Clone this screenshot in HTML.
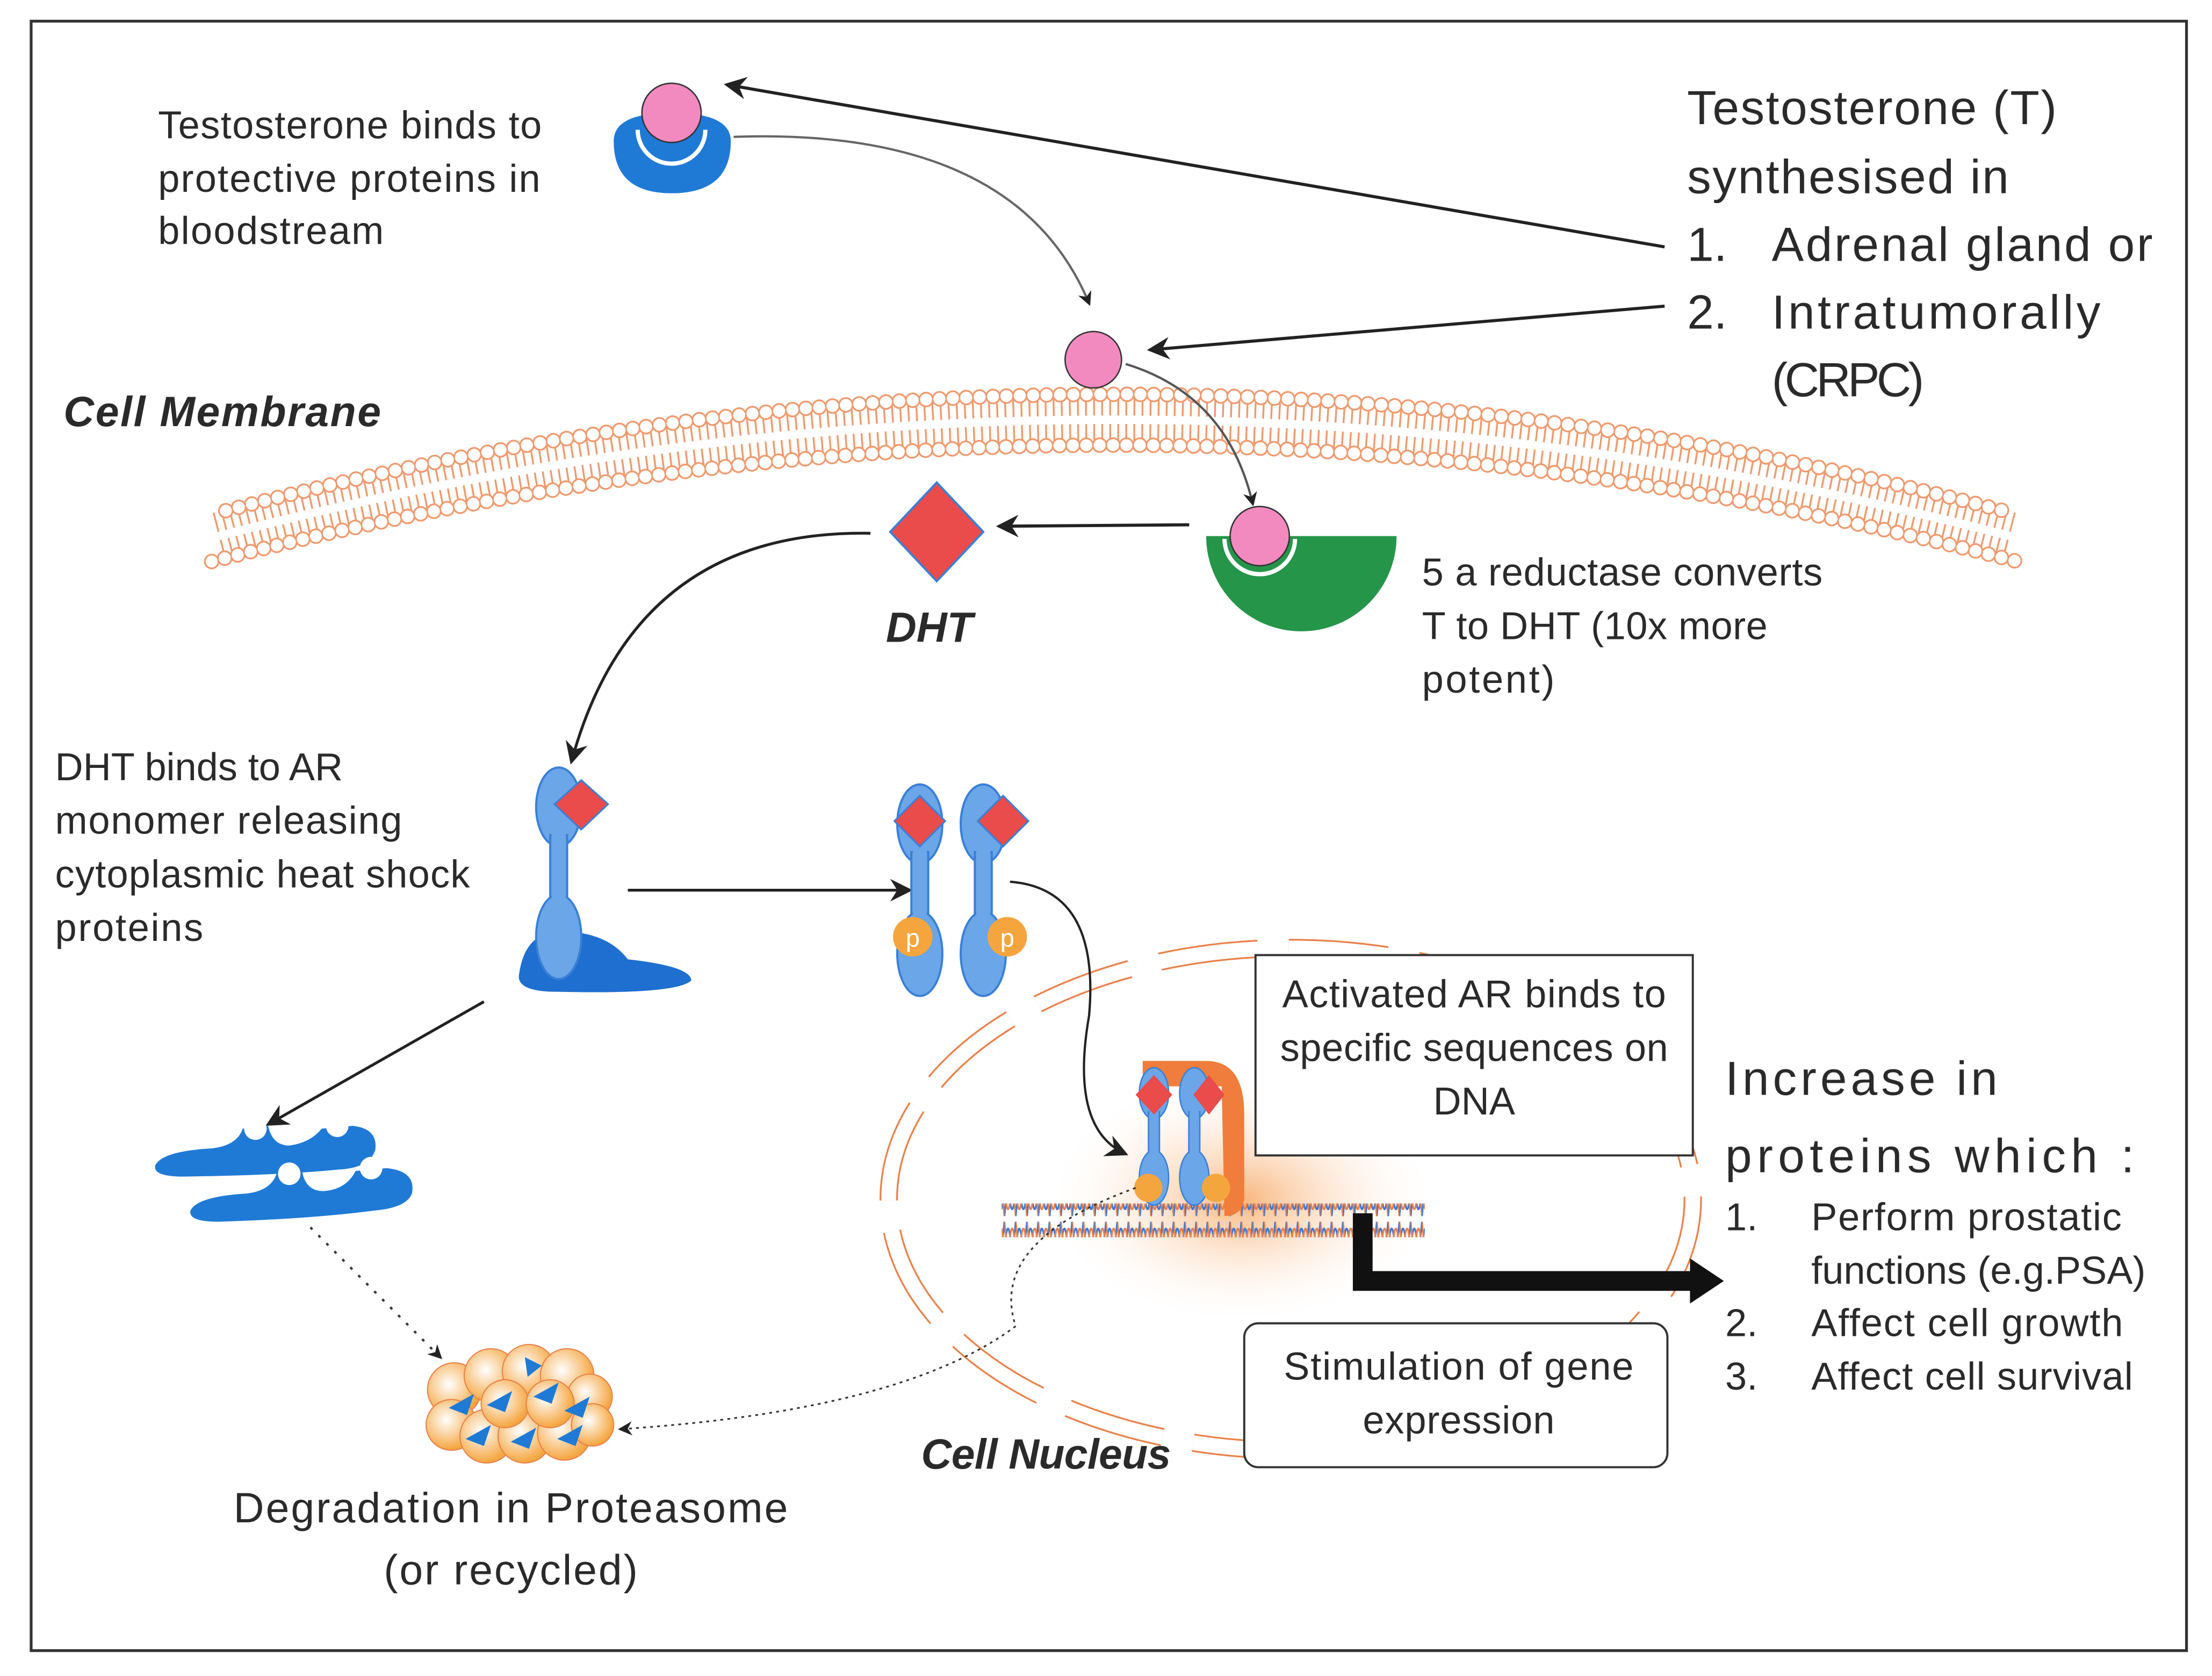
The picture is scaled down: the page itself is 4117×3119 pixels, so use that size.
<!DOCTYPE html>
<html><head><style>
html,body{margin:0;padding:0;background:#fff;}
svg{display:block;}
text{font-family:"Liberation Sans","DejaVu Sans",sans-serif;fill:#2a2a2a;}
</style></head><body>
<svg width="4117" height="3119" viewBox="0 0 1568 1188" xmlns="http://www.w3.org/2000/svg">
<defs>
<marker id="ah" markerWidth="10" markerHeight="10" refX="8" refY="5" orient="auto" markerUnits="userSpaceOnUse"><path d="M0,0 L10,5 L0,10 L3,5z" fill="#222"/></marker>
<marker id="ahs" markerWidth="16" markerHeight="16" refX="14" refY="8" orient="auto" markerUnits="userSpaceOnUse"><path d="M0,0 L16,8 L0,16 L5,8z" fill="#222"/></marker>
<radialGradient id="glow" cx="0.5" cy="0.5" r="0.5"><stop offset="0" stop-color="#f7a25a" stop-opacity="0.8"/><stop offset="1" stop-color="#fff" stop-opacity="0"/></radialGradient>
<radialGradient id="ball" cx="0.4" cy="0.4" r="0.6"><stop offset="0" stop-color="#fff"/><stop offset="1" stop-color="#f5a53e"/></radialGradient>
<pattern id="dna" width="8" height="24" patternUnits="userSpaceOnUse"><path d="M0,22 Q2,-2 4,12 T8,2" fill="none" stroke="#3a78d6" stroke-width="1.3"/><path d="M0,2 Q2,26 4,12 T8,22" fill="none" stroke="#e9814a" stroke-width="1.3"/></pattern>
<g id="arm">
<ellipse cx="0" cy="0" rx="16" ry="28" fill="#6aa6e8" stroke="#3a7fd6" stroke-width="1.5"/>
<rect x="-6" y="20" width="12" height="60" fill="#6aa6e8" stroke="#3a7fd6" stroke-width="1.5"/>
<ellipse cx="0" cy="92" rx="16" ry="30" fill="#6aa6e8" stroke="#3a7fd6" stroke-width="1.5"/>
<rect x="-5" y="18" width="10" height="66" fill="#6aa6e8"/>
</g>
</defs>
<rect x="22" y="15" width="1528" height="1155" fill="#fff" stroke="#333" stroke-width="2"/>

<!-- membrane -->
<path d="M155,380 Q790,215 1425,380" fill="none" stroke="#ef9a6e" stroke-width="34" stroke-dasharray="1.3 4.4"/>
<path d="M155,380 Q790,215 1425,380" fill="none" stroke="#fff" stroke-width="6"/>
<path d="M150,398 Q790,233 1430,398" fill="none" stroke="#ef9a6e" stroke-width="11" stroke-dasharray="0 9.5" stroke-linecap="round"/>
<path d="M150,398 Q790,233 1430,398" fill="none" stroke="#fff" stroke-width="8.5" stroke-dasharray="0 9.5" stroke-linecap="round"/>
<path d="M160,362 Q790,197 1420,362" fill="none" stroke="#ef9a6e" stroke-width="11" stroke-dasharray="0 9.5" stroke-linecap="round"/>
<path d="M160,362 Q790,197 1420,362" fill="none" stroke="#fff" stroke-width="8.5" stroke-dasharray="0 9.5" stroke-linecap="round"/>

<!-- nucleus -->
<ellipse cx="915" cy="850" rx="285" ry="178" fill="none" stroke="#e9814a" stroke-width="13" stroke-dasharray="70 22"/>
<ellipse cx="915" cy="850" rx="285" ry="178" fill="none" stroke="#fff" stroke-width="10.5" stroke-dasharray="70 22"/>
<ellipse cx="880" cy="850" rx="140" ry="90" fill="url(#glow)"/>

<!-- top protein -->
<path d="M435,100 Q435,80 476,80 Q518,80 518,100 Q518,137 476,137 Q435,137 435,100z" fill="#1f7ad6"/>
<circle cx="476" cy="80" r="21" fill="#f28ac0" stroke="#333" stroke-width="1"/>
<path d="M452,92 A24,24 0 0 0 500,92" fill="none" stroke="#fff" stroke-width="3"/>
<circle cx="775" cy="255" r="20" fill="#f28ac0" stroke="#333" stroke-width="1"/>

<!-- arrows top -->
<path d="M1180,175 L515,60" stroke="#222" stroke-width="2.2" fill="none" marker-end="url(#ahs)"/>
<path d="M1180,217 L815,248" stroke="#222" stroke-width="2.2" fill="none" marker-end="url(#ahs)"/>
<path d="M520,97 Q720,90 772,215" stroke="#666" stroke-width="1.6" fill="none" marker-end="url(#ah)"/>
<path d="M798,258 Q870,280 888,357" stroke="#555" stroke-width="1.6" fill="none" marker-end="url(#ah)"/>

<!-- reductase -->
<path d="M855,380 L990,380 A67,67 0 0 1 855,380z" fill="#25954a"/>
<circle cx="893" cy="380" r="21" fill="#f28ac0" stroke="#333" stroke-width="1"/>
<path d="M868,382 A25,25 0 0 0 918,382" fill="none" stroke="#fff" stroke-width="3"/>
<path d="M843,372 L708,373" stroke="#222" stroke-width="2.2" marker-end="url(#ahs)"/>
<path d="M664,342 L697,377 L664,412 L631,377z" fill="#ea4b4b" stroke="#3a7fd6" stroke-width="1.5"/>
<path d="M617,378 Q450,375 405,540" stroke="#222" stroke-width="2" fill="none" marker-end="url(#ahs)"/>

<!-- monomer -->
<path d="M368,690 Q372,662 395,660 Q430,660 445,680 Q490,685 490,695 Q480,705 395,703 Q365,703 368,690z" fill="#1f6fd0"/>
<use href="#arm" x="396" y="572"/>
<path d="M412,553 L431,570 L412,588 L393,570z" fill="#ea4b4b" stroke="#3a7fd6" stroke-width="1.2"/>
<path d="M445,631 L645,631" stroke="#222" stroke-width="2" marker-end="url(#ahs)"/>

<!-- dimer -->
<use href="#arm" x="652" y="584"/>
<use href="#arm" x="697" y="584"/>
<path d="M652,564 L670,582 L652,600 L634,582z" fill="#ea4b4b" stroke="#3a7fd6" stroke-width="1.2"/>
<path d="M711,564 L729,582 L711,600 L693,582z" fill="#ea4b4b" stroke="#3a7fd6" stroke-width="1.2"/>
<circle cx="647" cy="664" r="14" fill="#f5a53e"/><text x="647" y="671" font-size="18" text-anchor="middle" style="fill:#fff">p</text>
<circle cx="714" cy="664" r="14" fill="#f5a53e"/><text x="714" y="671" font-size="18" text-anchor="middle" style="fill:#fff">p</text>
<path d="M716,625 Q780,630 772,720 Q758,800 798,818" stroke="#222" stroke-width="1.6" fill="none" marker-end="url(#ahs)"/>

<!-- DNA -->
<rect x="710" y="853" width="300" height="24" fill="url(#dna)"/>
<path d="M810,752 L855,752 Q882,752 882,790 L882,850 Q880,862 868,862 L866,770 L810,770z" fill="#f07d3c"/>
<g transform="translate(818,775) scale(0.65)"><use href="#arm" x="0" y="0"/><use href="#arm" x="44" y="0"/></g>
<path d="M818,762 L831,776 L818,790 L805,776z" fill="#ea4b4b"/>
<path d="M857,762 L868,776 L857,790 L846,776z" fill="#ea4b4b"/>
<circle cx="814" cy="842" r="10" fill="#f5a53e"/><circle cx="862" cy="842" r="10" fill="#f5a53e"/>
<path d="M966,860 L966,908 L1200,908" stroke="#111" stroke-width="14" fill="none"/>
<path d="M1198,892 L1222,908 L1198,924z" fill="#111"/>
<path d="M805,842 Q700,880 720,940 Q640,1000 440,1013" stroke="#333" stroke-width="1.2" stroke-dasharray="2 3" fill="none" marker-end="url(#ah)"/>

<!-- HSP -->
<g fill="#1f7ad6">
<path d="M110,826 Q115,816 150,814 Q168,812 172,800 L190,798 Q193,812 205,812 Q220,810 228,800 L250,798 Q268,800 266,815 Q262,828 240,829 Q200,833 130,834 Q108,834 110,826z"/>
<path d="M135,858 Q140,848 175,846 Q192,844 196,832 L214,830 Q217,846 232,844 Q246,842 252,830 L274,828 Q295,830 292,846 Q288,856 266,858 Q220,864 155,866 Q133,866 135,858z"/>
</g>
<circle cx="181" cy="800" r="8" fill="#fff"/><circle cx="239" cy="798" r="8" fill="#fff"/>
<circle cx="205" cy="832" r="8" fill="#fff"/><circle cx="263" cy="828" r="8" fill="#fff"/>
<path d="M343,710 L190,797" stroke="#222" stroke-width="2" marker-end="url(#ahs)"/>
<path d="M220,870 L312,962" stroke="#333" stroke-width="1.6" stroke-dasharray="2 6" marker-end="url(#ah)"/>

<!-- proteasome -->
<g stroke="#e9814a" stroke-width="0.8" fill="url(#ball)">
<circle cx="322" cy="985" r="19"/><circle cx="348" cy="975" r="19"/><circle cx="375" cy="972" r="19"/><circle cx="402" cy="975" r="19"/><circle cx="418" cy="990" r="16"/>
<circle cx="320" cy="1010" r="18"/><circle cx="345" cy="1018" r="19"/><circle cx="372" cy="1018" r="19"/><circle cx="400" cy="1016" r="19"/><circle cx="420" cy="1010" r="15"/>
<circle cx="358" cy="995" r="17"/><circle cx="390" cy="995" r="17"/>
</g>
<g fill="#1f7ad6"><path d="M318,998 l18,-10 l-5,15z"/><path d="M345,996 l18,-10 l-5,15z"/><path d="M378,990 l18,-10 l-5,15z"/><path d="M400,1000 l18,-10 l-5,15z"/><path d="M330,1020 l18,-10 l-5,15z"/><path d="M362,1022 l18,-10 l-5,15z"/><path d="M395,1020 l18,-10 l-5,15z"/><path d="M372,962 l12,6 l-10,8z"/></g>

<!-- boxes -->
<rect x="890" y="677" width="310" height="142" fill="#fff" stroke="#333" stroke-width="1.5"/>
<rect x="882" y="938" width="300" height="102" rx="10" fill="#fff" stroke="#333" stroke-width="1.5"/>

<!-- texts -->
<g font-size="27.5">
<text x="112" y="98" textLength="272">Testosterone binds to</text>
<text x="112" y="136" textLength="271">protective proteins in</text>
<text x="112" y="173" textLength="160">bloodstream</text>
<text x="1008" y="415" textLength="284">5 a reductase converts</text>
<text x="1008" y="453" textLength="245">T to DHT (10x more</text>
<text x="1008" y="491" textLength="94">potent)</text>
<text x="39" y="553" textLength="204">DHT binds to AR</text>
<text x="39" y="591" textLength="246">monomer releasing</text>
<text x="39" y="629" textLength="294">cytoplasmic heat shock</text>
<text x="39" y="667" textLength="105">proteins</text>
<text x="1045" y="714" text-anchor="middle" textLength="272">Activated AR binds to</text>
<text x="1045" y="752" text-anchor="middle" textLength="275">specific sequences on</text>
<text x="1045" y="790" text-anchor="middle">DNA</text>
<text x="1034" y="978" text-anchor="middle" textLength="248">Stimulation of gene</text>
<text x="1034" y="1016" text-anchor="middle" textLength="136">expression</text>
<text x="1223" y="872">1.</text><text x="1284" y="872" textLength="220">Perform prostatic</text>
<text x="1284" y="910" textLength="237">functions (e.g.PSA)</text>
<text x="1223" y="947">2.</text><text x="1284" y="947" textLength="221">Affect cell growth</text>
<text x="1223" y="985">3.</text><text x="1284" y="985" textLength="228">Affect cell survival</text>
</g>
<g font-size="34">
<text x="1196" y="88" textLength="262">Testosterone (T)</text>
<text x="1196" y="137" textLength="228">synthesised in</text>
<text x="1196" y="185">1.</text><text x="1256" y="185" textLength="270">Adrenal gland or</text>
<text x="1196" y="233">2.</text><text x="1256" y="233" textLength="233">Intratumorally</text>
<text x="1256" y="281" textLength="108">(CRPC)</text>
<text x="1223" y="776" textLength="193">Increase in</text>
<text x="1223" y="831" textLength="290">proteins which :</text>
</g>
<g font-size="30">
<text x="362" y="1079" text-anchor="middle" textLength="393">Degradation in Proteasome</text>
<text x="362" y="1123" text-anchor="middle" textLength="180">(or recycled)</text>
</g>
<g font-size="30" font-style="italic" font-weight="bold">
<text x="45" y="302" textLength="225">Cell Membrane</text>
<text x="628" y="455">DHT</text>
<text x="653" y="1041" textLength="177">Cell Nucleus</text>
</g>
</svg>
</body></html>
